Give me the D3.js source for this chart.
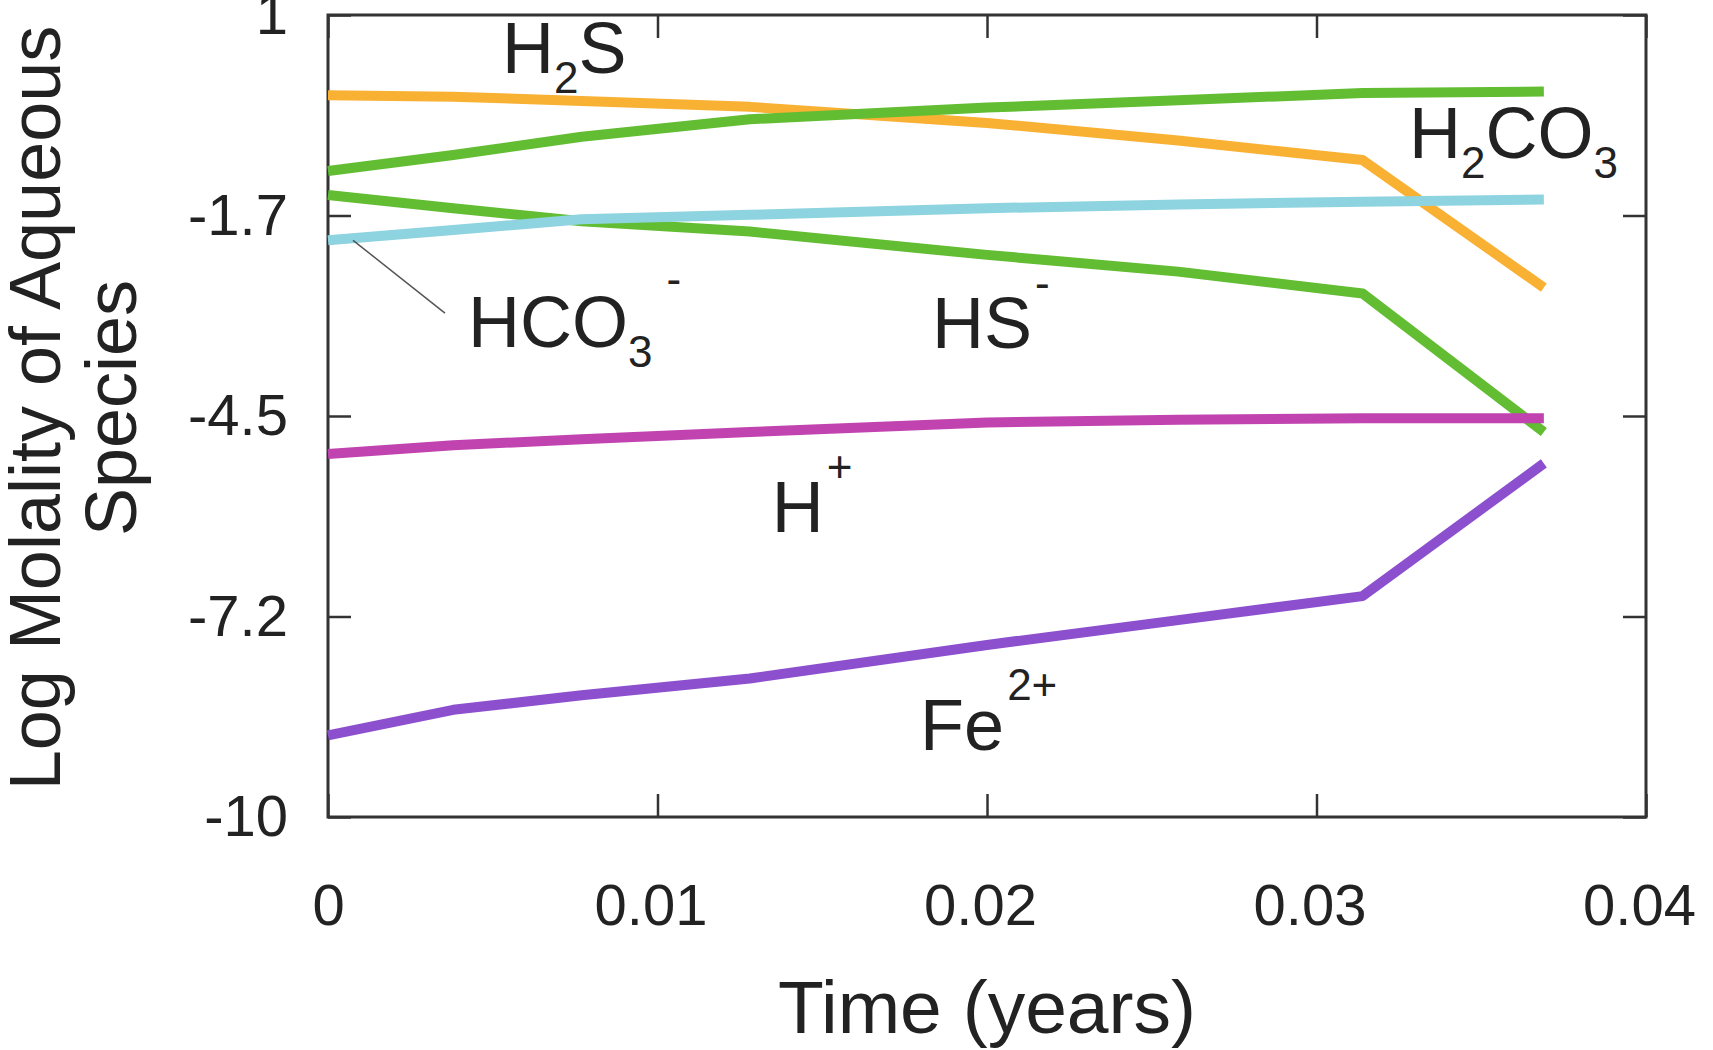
<!DOCTYPE html>
<html>
<head>
<meta charset="utf-8">
<script src="https://cdn.jsdelivr.net/npm/d3@7"></script>
<style>
  body { margin: 0; background: white; }
  text { font-family: "Liberation Sans", Arial, sans-serif; fill: #222; }
</style>
</head>
<body>
<div id="viz"></div>
<script>
// time axis samples (years)
const times = [0, 0.0038, 0.0077, 0.0128, 0.02, 0.0258, 0.0314, 0.0369];

// log molality of each species at those times
const h2s   = [-0.10, -0.12, -0.18, -0.26, -0.48, -0.72, -0.99, -2.74];
const h2co3 = [-1.14, -0.92, -0.67, -0.43, -0.27, -0.17, -0.07, -0.05];
const hsMinus = [-1.47, -1.65, -1.83, -1.97, -2.29, -2.52, -2.82, -4.72];
const hco3Minus = [-2.09, -1.95, -1.80, -1.74, -1.65, -1.60, -1.56, -1.53];
const hPlus = [-5.02, -4.90, -4.82, -4.72, -4.59, -4.55, -4.53, -4.53];
const fe2Plus = [-8.88, -8.53, -8.33, -8.10, -7.64, -7.30, -6.97, -5.15];

const xTicks = [0, 0.01, 0.02, 0.03, 0.04];
const xTickLabels = ["0", "0.01", "0.02", "0.03", "0.04"];
const yTicks = [1, -1.75, -4.5, -7.25, -10];
const yTickLabels = ["1", "-1.7", "-4.5", "-7.2", "-10"];

const series = [
    { name: "H2S", values: h2s, color: "#F9B134" },
    { name: "H2CO3", values: h2co3, color: "#62BD33" },
    { name: "HS-", values: hsMinus, color: "#62BD33" },
    { name: "HCO3-", values: hco3Minus, color: "#8DD3E0" },
    { name: "H+", values: hPlus, color: "#C043B0" },
    { name: "Fe2+", values: fe2Plus, color: "#8C50CF" }
];

// label anchors in data space; parts: [text, "sub"|"sup"|null]
const labels = [
    { t: 0.00528, v: 0.20, parts: [["H"], ["2", "sub"], ["S"]] },
    { t: 0.03281, v: -0.966, parts: [["H"], ["2", "sub"], ["CO"], ["3", "sub"]] },
    { t: 0.00425, v: -3.55, parts: [["HCO"], ["3", "sub"], ["-", "supAfterSub"]] },
    { t: 0.01833, v: -3.57, parts: [["HS"], ["-", "sup"]] },
    { t: 0.01347, v: -6.09, parts: [["H"], ["+", "sup"]] },
    { t: 0.01797, v: -9.08, parts: [["Fe"], ["2+", "sup"]] }
];
const leader = { from: [0.00076, -2.09], to: [0.00355, -3.09] };

const width = 1713, height = 1050;
const margin = { top: 15, right: 67, bottom: 233, left: 328 };
const tickLen = 23;

const svg = d3.select("#viz").append("svg")
    .attr("width", width)
    .attr("height", height)
    .style("background", "white");

const x = d3.scaleLinear().domain([0, 0.04]).range([margin.left, width - margin.right]);
const y = d3.scaleLinear().domain([-10, 1]).range([height - margin.bottom, margin.top]);

function styleAxis(g) {
    g.select(".domain").remove();
    g.selectAll(".tick line").attr("stroke", "#333").attr("stroke-width", 2.5);
    g.selectAll(".tick text").style("font-size", "58px").attr("fill", "#222");
}

// bottom / left axes with labels, ticks pointing inward
svg.append("g")
    .attr("transform", `translate(0,${y(-10)})`)
    .call(d3.axisBottom(x).tickValues(xTicks).tickSizeInner(-tickLen).tickSizeOuter(0)
        .tickPadding(67).tickFormat((d, i) => xTickLabels[i]))
    .call(styleAxis)
    .selectAll(".tick text").attr("dx", d => d === 0 ? 0 : -7);

svg.append("g")
    .attr("transform", `translate(${x(0)},0)`)
    .call(d3.axisLeft(y).tickValues(yTicks).tickSizeInner(-tickLen).tickSizeOuter(0)
        .tickPadding(40).tickFormat((d, i) => yTickLabels[i]))
    .call(styleAxis);

// mirrored ticks on top / right
svg.append("g")
    .attr("transform", `translate(0,${y(1)})`)
    .call(d3.axisTop(x).tickValues(xTicks).tickSizeInner(-tickLen).tickSizeOuter(0).tickFormat(""))
    .call(styleAxis);

svg.append("g")
    .attr("transform", `translate(${x(0.04)},0)`)
    .call(d3.axisRight(y).tickValues(yTicks).tickSizeInner(-tickLen).tickSizeOuter(0).tickFormat(""))
    .call(styleAxis);

// frame
svg.append("rect")
    .attr("x", x(0))
    .attr("y", y(1))
    .attr("width", x(0.04) - x(0))
    .attr("height", y(-10) - y(1))
    .attr("fill", "none")
    .attr("stroke", "#333")
    .attr("stroke-width", 3);

// species lines
const line = d3.line()
    .x((d, i) => x(times[i]))
    .y(d => y(d));

svg.append("g").selectAll("path")
    .data(series)
    .enter().append("path")
    .attr("d", d => line(d.values))
    .attr("fill", "none")
    .attr("stroke", d => d.color)
    .attr("stroke-width", 10)
    .attr("stroke-linejoin", "round");

// leader line for HCO3-
svg.append("line")
    .attr("x1", x(leader.from[0])).attr("y1", y(leader.from[1]))
    .attr("x2", x(leader.to[0])).attr("y2", y(leader.to[1]))
    .attr("stroke", "#555")
    .attr("stroke-width", 1.5);

// species labels with sub/superscripts
labels.forEach(lab => {
    const txt = svg.append("text")
        .attr("x", x(lab.t))
        .attr("y", y(lab.v))
        .style("font-size", "72px");
    let shift = 0;
    lab.parts.forEach(([s, kind]) => {
        let target = 0, size = 72, dx = 0;
        if (kind === "sub") { target = 20; size = 44; }
        if (kind === "sup") { target = -50; size = 44; dx = 3; }
        if (kind === "supAfterSub") { target = -53; size = 44; dx = 14; }
        txt.append("tspan")
            .attr("dy", target - shift)
            .attr("dx", dx)
            .style("font-size", size + "px")
            .text(s);
        shift = target;
    });
});

// axis titles
svg.append("text")
    .attr("x", (x(0) + x(0.04)) / 2)
    .attr("y", 1033)
    .attr("text-anchor", "middle")
    .style("font-size", "75px")
    .text("Time (years)");

svg.append("text")
    .attr("transform", "translate(60,408) rotate(-90)")
    .attr("text-anchor", "middle")
    .style("font-size", "72px")
    .text("Log Molality of Aqueous");

svg.append("text")
    .attr("transform", "translate(136,408) rotate(-90)")
    .attr("text-anchor", "middle")
    .style("font-size", "72px")
    .text("Species");
</script>
</body>
</html>
